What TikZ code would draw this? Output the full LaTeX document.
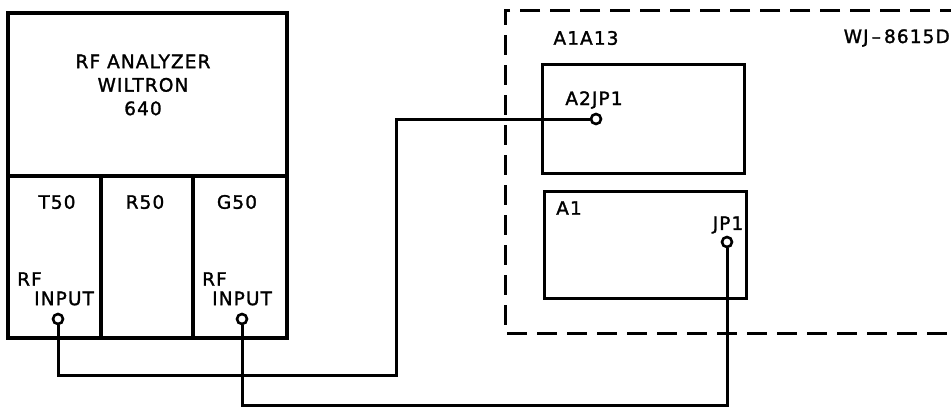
\documentclass[tikz,border=0pt]{standalone}
\usepackage{fontspec}
\setmainfont{DejaVu Sans}[LetterSpace=6,FakeBold=1.5]
\begin{document}
\begin{tikzpicture}[x=1pt,y=-1pt,
  box/.style={draw,line width=3.4pt,inner sep=0pt},
  wire/.style={line width=3pt},
  jack/.style={circle,draw,line width=2.6pt,fill=white,minimum size=10pt,inner sep=0pt},
  lbl/.style={font=\fontsize{18.5}{22}\selectfont,inner sep=0pt},
  dashbox/.style={line width=3pt,dash pattern=on 20pt off 10pt}]
\useasboundingbox (0,0) rectangle (951,408);
% analyzer
\node[box,minimum width=279pt,minimum height=325pt] (ana) at (147.5,175.5) {};
\draw[box] (8,176) -- (287,176);
\draw[box] (101,176) -- (101,338);
\draw[box] (193,176) -- (193,338);
\node[lbl,align=center] (title) at (143,85) {RF ANALYZER\\[1.5pt]WILTRON\\[1.5pt]640};
\node[lbl] (t50) at (57,202) {T50};
\node[lbl] (r50) at (145,202) {R50};
\node[lbl] (g50) at (237,202) {G50};
\node[lbl,anchor=west] (trf) at (17,279) {RF};
\node[lbl,anchor=west] (tinp) at (34,298.5) {INPUT};
\node[lbl,anchor=west] (grf) at (202,279) {RF};
\node[lbl,anchor=west] (ginp) at (212,298.5) {INPUT};
% receiver
\draw[dashbox] (960,10) -| (505,333) -- (960,333);
\node[lbl] (a1a13) at (586,38) {A1A13};
\node[lbl,anchor=east] (wj) at (950,38) {WJ\,--\,8615D};
\node[box,minimum width=202pt,minimum height=109pt,anchor=north west] (a2box) at (541,63) {};
\node[box,minimum width=202pt,minimum height=107pt,anchor=north west] (a1box) at (543,190) {};
\node[lbl] (a2lbl) at (594,100) {A2JP1};
\node[lbl] (a1lbl) at (569,208) {A1};
\node[lbl] (jp1lbl) at (728,225) {JP1};
% connectors
\coordinate (c1) at (396,375);
\coordinate (c2) at (727,405);
\node[jack] (tin) at (58,319) {};
\node[jack] (gin) at (242,319) {};
\node[jack] (a2j) at (596,119) {};
\node[jack] (jp1) at (727,242) {};
\draw[wire] (tin.south) |- (c1) |- (a2j.west);
\draw[wire] (gin.south) |- (c2) -- (jp1.south);
\end{tikzpicture}
\end{document}
